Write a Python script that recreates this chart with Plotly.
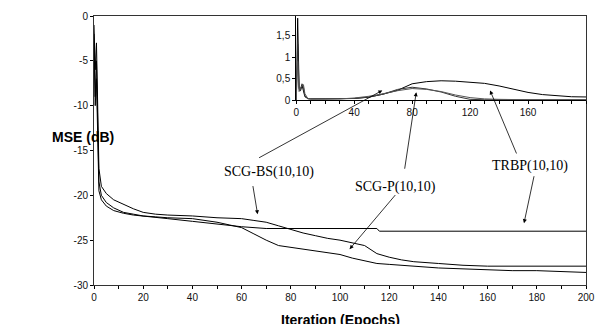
import plotly.graph_objects as go

# ---------------- main chart data (MSE in dB vs epochs) ----------------
scgbs_x = [0, 0.5, 1, 1.5, 2, 3, 5, 8, 12, 16, 20, 25, 30, 40, 50, 60, 65, 70, 75, 80,
           85, 90, 95, 100, 105, 110, 115, 120, 125, 130, 140, 150, 160, 180, 200]
scgbs_y = [-1, -6, -3, -12, -17, -19.0, -19.8, -20.5, -21.0, -21.5, -21.9, -22.1, -22.2,
           -22.3, -22.5, -22.6, -22.8, -23.0, -23.4, -23.8, -24.2, -24.5, -24.8, -25.0,
           -25.3, -25.6, -26.5, -26.9, -27.2, -27.4, -27.6, -27.8, -27.9, -27.9, -27.9]

scgp_x = [0, 0.5, 1, 1.5, 2, 3, 5, 8, 12, 16, 20, 25, 30, 40, 50, 55, 60, 65, 70, 75, 80,
          85, 90, 95, 100, 105, 110, 115, 120, 130, 140, 150, 160, 170, 180, 190, 200]
scgp_y = [-2, -9, -5, -14, -18.5, -20.0, -20.8, -21.4, -21.9, -22.1, -22.3, -22.4, -22.5,
          -22.6, -23.0, -23.3, -23.6, -24.3, -25.0, -25.6, -25.8, -26.0, -26.2, -26.4,
          -26.6, -27.0, -27.3, -27.6, -27.7, -27.9, -28.1, -28.2, -28.3, -28.4, -28.4,
          -28.5, -28.6]

trbp_x = [0, 0.5, 1, 1.5, 2, 3, 5, 8, 12, 16, 20, 30, 40, 50, 60, 70, 80, 100, 115, 116,
          130, 150, 200]
trbp_y = [-3, -10, -7, -15, -19.5, -20.5, -21.2, -21.7, -22.0, -22.2, -22.3, -22.6, -22.9,
          -23.2, -23.5, -23.7, -23.7, -23.7, -23.7, -24.0, -24.0, -24.0, -24.0]

# ---------------- inset data ----------------
inset_x = [0, 1, 2, 3, 4, 5, 6, 8, 10, 20, 30, 40, 50, 60, 70, 80, 90, 100, 110, 120,
           130, 140, 150, 160, 170, 180, 190, 200]
inset_a = [0, 1.9, 0.25, 0.22, 0.35, 0.2, 0.08, 0.04, 0.03, 0.03, 0.03, 0.04, 0.07, 0.14,
           0.23, 0.38, 0.43, 0.45, 0.44, 0.42, 0.39, 0.33, 0.26, 0.18, 0.13, 0.1, 0.08, 0.075]
inset_b = [0, 1.3, 0.3, 0.25, 0.38, 0.3, 0.1, 0.03, 0.03, 0.03, 0.03, 0.04, 0.07, 0.14,
           0.25, 0.3, 0.26, 0.19, 0.09, 0.02, 0.01, 0.01, 0.01, 0.01, 0.01, 0.01, 0.01, 0.01]
inset_c = [0, 0.9, 0.2, 0.3, 0.32, 0.36, 0.15, 0.04, 0.03, 0.03, 0.03, 0.05, 0.09, 0.15,
           0.22, 0.27, 0.25, 0.2, 0.12, 0.06, 0.03, 0.02, 0.01, 0.01, 0.01, 0.01, 0.01, 0.01]

# ---------------- tick labels ----------------
x_tickvals = [0, 20, 40, 60, 80, 100, 120, 140, 160, 180, 200]
x_ticktext = ["0", "20", "40", "60", "80", "100", "120", "140", "160", "180", "200"]
y_tickvals = [0, -5, -10, -15, -20, -25, -30]
y_ticktext = ["0", "-5", "-10", "-15", "-20", "-25", "-30"]
ix_tickvals = [0, 40, 80, 120, 160]
ix_ticktext = ["0", "40", "80", "120", "160"]
iy_tickvals = [0, 0.5, 1, 1.5]
iy_ticktext = ["0", "0,5", "1", "1,5"]

# ---------------- label / arrow annotations (main-axis data units) ----------------
labels = ["SCG-BS(10,10)", "SCG-P(10,10)", "TRBP(10,10)"]
label_pos = [(71, -17.4), (122.5, -19.1), (177.3, -16.7)]
arrows = [  # (head_x, head_y, tail_x, tail_y)
    (117.2, -8.3, 66.5, -15.9),
    (66.5, -22.1, 64.5, -18.8),
    (131.0, -8.5, 126.2, -17.2),
    (103.9, -26.0, 123.0, -19.8),
    (161.0, -8.3, 172.0, -15.5),
    (174.8, -23.1, 179.0, -17.7),
]

fig = go.Figure()
line = dict(color="black", width=1)
for xs, ys, nm in [(scgbs_x, scgbs_y, "SCG-BS"), (scgp_x, scgp_y, "SCG-P"), (trbp_x, trbp_y, "TRBP")]:
    fig.add_trace(go.Scatter(x=xs, y=ys, mode="lines", line=line, name=nm,
                             xaxis="x", yaxis="y", showlegend=False))
for ys, col in [(inset_a, "black"), (inset_b, "#333333"), (inset_c, "#555555")]:
    fig.add_trace(go.Scatter(x=inset_x, y=ys, mode="lines", line=dict(color=col, width=1),
                             xaxis="x2", yaxis="y2", showlegend=False))

tickfont = dict(family="Liberation Sans, Arial", size=10, color="#111")
annotations = []
for txt, (lx, ly) in zip(labels, label_pos):
    annotations.append(dict(x=lx, y=ly, xref="x", yref="y", text=txt, showarrow=False,
                            font=dict(family="Liberation Serif, Times New Roman", size=14,
                                      color="black")))
for hx, hy, tx, ty in arrows:
    annotations.append(dict(x=hx, y=hy, ax=tx, ay=ty, xref="x", yref="y", axref="x",
                            ayref="y", text="", showarrow=True, arrowhead=2, arrowsize=1,
                            arrowwidth=0.8, arrowcolor="black", standoff=0))
annotations.append(dict(x=-0.089, y=0.549, xref="paper", yref="paper", text="<b>MSE (dB)</b>",
                        showarrow=False, font=dict(family="Liberation Sans, Arial", size=14,
                                                   color="black")))
annotations.append(dict(x=0.5, y=-0.092, xref="paper", yref="paper", yanchor="top",
                        text="<b>Iteration (Epochs)</b>", showarrow=False,
                        font=dict(family="Liberation Sans, Arial", size=14, color="black")))

fig.update_layout(
    width=605, height=324,
    margin=dict(l=94, r=17, t=10, b=39),
    paper_bgcolor="white", plot_bgcolor="white",
    showlegend=False,
    annotations=annotations,
    xaxis=dict(domain=[0, 1], range=[0, 200], tickvals=x_tickvals, ticktext=x_ticktext,
               ticks="outside", ticklen=3, tickcolor="black", showgrid=False, zeroline=False,
               showline=True, linecolor="#333", linewidth=1, mirror=True, tickfont=tickfont,
               minor=dict(dtick=10, tick0=0, ticks="outside", ticklen=3, tickcolor="black")),
    yaxis=dict(domain=[0, 1], range=[-30, 0], tickvals=y_tickvals, ticktext=y_ticktext,
               ticks="outside", ticklen=3, tickcolor="black", showgrid=False, zeroline=False,
               showline=True, linecolor="#333", linewidth=1, mirror=True, tickfont=tickfont),
    xaxis2=dict(domain=[0.411, 1.0], range=[0, 200], anchor="y2", tickvals=ix_tickvals,
                ticktext=ix_ticktext, ticks="outside", ticklen=3, tickcolor="black",
                showgrid=False, zeroline=False, showline=True, linecolor="black",
                tickfont=tickfont,
                minor=dict(dtick=10, tick0=0, ticks="outside", ticklen=3, tickcolor="black")),
    yaxis2=dict(domain=[0.687, 1.0], range=[0, 1.95], anchor="x2", tickvals=iy_tickvals,
                ticktext=iy_ticktext, ticks="outside", ticklen=3, tickcolor="black",
                showgrid=False, zeroline=False, showline=True, linecolor="black",
                tickfont=tickfont),
)

fig.write_html("out.html", config={"displayModeBar": False},
               post_script="document.body.style.margin='0';document.body.style.overflow='hidden';")
